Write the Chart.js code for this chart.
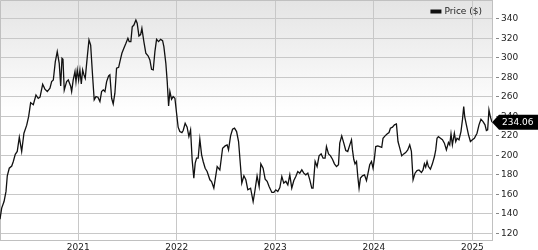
<!DOCTYPE html>
<html><head><meta charset="utf-8">
<script src="https://cdn.jsdelivr.net/npm/chart.js@4.4.1/dist/chart.umd.min.js"></script>
<style>html,body{margin:0;padding:0;background:#fff;overflow:hidden}#wrap{width:538px;height:250px;position:relative}</style>
</head><body><div id="wrap"><canvas id="c" width="538" height="250"></canvas></div>
<script>
const seriesLabel = 'Price ($)';
const xTicks = [2021, 2022, 2023, 2024, 2025];
const yTicks = [120, 140, 160, 180, 200, 220, 240, 260, 280, 300, 320, 340];
const xRange = [2020.206, 2025.199];
const yRange = [113.1, 359.5];
const lastValue = 234.06;

const dates = [
2020.206,2020.223,2020.247,2020.267,2020.280,2020.300,2020.325,2020.341,2020.361,2020.381,2020.402,2020.426,2020.449,2020.477,2020.497,2020.517,2020.544,2020.571,2020.594,2020.612,2020.639,2020.662,2020.686,2020.713,2020.730,2020.747,2020.767,2020.787,2020.807,2020.822,2020.835,2020.845,2020.858,2020.882,2020.899,2020.923,
2020.933,2020.949,2020.967,2020.977,2020.990,2021.004,2021.017,2021.031,2021.045,2021.058,2021.071,2021.092,2021.109,2021.126,2021.146,2021.162,2021.180,2021.200,2021.220,2021.237,2021.254,2021.271,2021.288,2021.308,2021.321,2021.339,2021.355,2021.372,2021.389,2021.410,2021.423,2021.443,2021.463,2021.484,2021.504,2021.517,2021.534,2021.548,2021.565,2021.585,2021.598,2021.616,2021.633,
2021.646,2021.666,2021.686,2021.710,2021.727,2021.744,2021.761,2021.778,2021.795,2021.815,2021.836,2021.856,2021.869,2021.889,2021.903,2021.917,2021.930,2021.947,2021.963,2021.981,2021.998,2022.014,2022.031,2022.052,2022.065,2022.085,2022.105,2022.123,2022.140,2022.156,2022.173,2022.187,2022.201,2022.217,2022.234,2022.252,2022.268,2022.288,2022.308,2022.336,
2022.353,2022.376,2022.410,2022.437,2022.465,2022.491,2022.511,2022.525,2022.546,2022.566,2022.586,2022.607,2022.627,2022.647,2022.660,2022.681,2022.701,2022.721,2022.749,2022.775,2022.792,2022.815,2022.836,2022.853,2022.876,2022.897,2022.917,2022.937,2022.965,2022.985,2023.005,2023.025,2023.046,
2023.066,2023.086,2023.107,2023.127,2023.147,2023.167,2023.188,2023.208,2023.228,2023.248,2023.269,2023.289,2023.309,2023.330,2023.350,2023.370,2023.383,2023.404,2023.424,2023.444,2023.465,2023.485,2023.505,2023.519,2023.540,2023.560,2023.580,2023.600,2023.621,2023.641,2023.654,2023.674,2023.695,2023.715,2023.735,2023.756,
2023.773,2023.783,2023.796,2023.809,2023.824,2023.837,2023.850,2023.864,2023.884,2023.905,2023.925,2023.941,2023.958,2023.976,2023.992,2024.006,2024.019,2024.040,2024.060,2024.080,2024.093,2024.114,2024.134,2024.154,2024.168,2024.189,2024.209,2024.229,2024.245,2024.263,2024.283,2024.303,2024.323,2024.344,2024.364,2024.381,2024.398,2024.418,2024.438,2024.458,2024.483,
2024.499,2024.513,2024.526,2024.540,2024.554,2024.574,2024.594,2024.615,2024.628,2024.641,2024.655,2024.676,2024.696,2024.716,2024.736,2024.757,2024.770,2024.783,2024.797,2024.817,2024.831,2024.844,2024.864,2024.884,2024.899,2024.912,2024.922,2024.939,2024.960,2024.980,2025.000,2025.020,2025.047,2025.067,2025.087,2025.108,2025.128,2025.142,2025.155,2025.168,2025.182,2025.199
];

const prices = [
134.5,145.8,152.6,163,179,186.8,189,193.7,201,204,218.6,204,222.7,231,240,254,252,262,258.6,259.7,273,268,265.5,269,275.7,277.4,296,306.5,294.5,271.3,299.7,298.6,267,275.7,277.4,271,
265.5,277.4,286,275.7,287.7,277.4,287.7,273.3,287.7,282.6,279,301.4,318.5,313.3,280.9,257,260.3,259.7,255.2,265.5,267.2,265.5,275.7,281.5,282.6,258.6,252.8,263.8,289.4,290.4,296.2,304.8,309.9,315,320.2,316.8,316.8,332,333.8,339,335.6,322.6,324,
330.4,316.8,304.8,302,298,288.4,287.7,306.5,319.1,316.8,319.1,317.8,311.6,294.5,275.7,250.8,265.5,257.6,260.3,258.6,243.2,228.9,224.4,223.4,225.5,233,228.9,219.3,226.2,195.4,176.6,192,197.1,197.1,216.6,200.5,193.7,186.8,183.4,174.9,
173,166.3,188.5,185,207.3,209.7,210.7,205.6,220,226.8,227.9,224.4,214.2,188.5,171.5,179,174.9,164.6,166.3,152.6,162.9,179,168,191.3,186.8,175.6,173.3,168,161.9,161.9,164.6,162.9,167,
178.3,171.5,173.3,169.7,180,166.3,174.2,178.3,183.4,181.7,185.1,181.7,180,181.7,174.9,166.3,166.3,193.7,188.5,199.5,201.5,197.1,197.1,209,201.5,199.5,196,191.3,188.5,190.3,212.5,220,212.5,205,204,210.8,
216,205.6,196,191.3,193.7,178.3,166.3,176.6,179,180,174.2,181.7,190.3,193.7,186.8,197.1,209,209.7,209,208.3,217.6,220,222,223.4,227.9,228.9,231.3,232.3,214.2,207.4,199.5,201.5,202.9,205.6,210.8,204,174.9,181.7,184.4,185,182.4,
185,191.3,187.9,193.7,188.5,185.8,191.3,198.8,205.6,217.6,219.3,217.6,216,212.5,205.6,213.2,210.8,222,210.8,222.7,214.2,217.6,216,224.4,236.4,250.1,239.8,231.3,221.3,214.2,216,217.6,222.7,231.3,237.1,234.7,231.3,225.5,226.2,246.7,239.8,234.06
];

const FONT = {family: "'DejaVu Sans', sans-serif", size: 9};
const TEXT = '#222';
const GRID = '#c8c8c8';

const bgPlugin = {
  id: 'bg',
  beforeDraw(chart) {
    const {ctx, chartArea: a} = chart;
    const g = ctx.createLinearGradient(0, a.top, 0, a.bottom);
    g.addColorStop(0, '#e4e4e4');
    g.addColorStop(0.47, '#ffffff');
    g.addColorStop(1, '#ffffff');
    ctx.save();
    ctx.fillStyle = g;
    ctx.fillRect(a.left, a.top, a.right - a.left, a.bottom - a.top);
    ctx.restore();
  },
  beforeDatasetsDraw(chart) {
    const {ctx, chartArea: a} = chart;
    ctx.save();
    ctx.strokeStyle = '#c0c0c0';
    ctx.lineWidth = 1;
    ctx.beginPath();
    ctx.moveTo(a.left + 0.5, a.bottom);
    ctx.lineTo(a.left + 0.5, a.top + 0.5);
    ctx.lineTo(a.right, a.top + 0.5);
    ctx.stroke();
    ctx.restore();
  },
  afterDraw(chart) {
    const {ctx, chartArea: a} = chart;
    const ds = chart.data.datasets[0];
    ctx.save();
    ctx.font = `9px ${FONT.family}`;
    const tw = ctx.measureText(ds.label).width;
    const tx = a.right - 10 - tw;
    ctx.fillStyle = TEXT;
    ctx.textBaseline = 'middle';
    ctx.fillText(ds.label, tx, 12);
    ctx.fillStyle = ds.borderColor;
    ctx.fillRect(tx - 14, 9.5, 11, 4);
    const y = chart.scales.y.getPixelForValue(lastValue);
    const x0 = a.right;
    ctx.fillStyle = '#000';
    ctx.beginPath();
    ctx.moveTo(x0, y);
    ctx.lineTo(x0 + 7, y - 7.5);
    ctx.lineTo(538, y - 7.5);
    ctx.lineTo(538, y + 7.5);
    ctx.lineTo(x0 + 7, y + 7.5);
    ctx.closePath();
    ctx.fill();
    ctx.fillStyle = '#fff';
    ctx.fillText(lastValue.toFixed(2), x0 + 10, y + 0.5);
    ctx.restore();
  }
};

new Chart(document.getElementById('c'), {
  type: 'line',
  data: {
    datasets: [{
      label: seriesLabel,
      data: dates.map((d, i) => ({x: d, y: prices[i]})),
      borderColor: '#111111',
      borderWidth: 1.3,
      pointRadius: 0,
      tension: 0,
      fill: false
    }]
  },
  options: {
    responsive: false,
    animation: false,
    devicePixelRatio: 1,
    layout: {padding: 0},
    plugins: {legend: {display: false}, tooltip: {enabled: false}},
    scales: {
      x: {
        type: 'linear',
        min: xRange[0], max: xRange[1],
        afterBuildTicks: s => { s.ticks = xTicks.map(v => ({value: v})); },
        afterFit: s => { s.height = 10; s.paddingLeft = 0; s.paddingRight = 0; },
        ticks: {font: FONT, color: TEXT, padding: 2, maxRotation: 0, autoSkip: false, callback: v => String(v)},
        grid: {color: GRID, drawTicks: false},
        border: {color: '#c0c0c0'}
      },
      y: {
        position: 'right',
        min: yRange[0], max: yRange[1],
        afterBuildTicks: s => { s.ticks = yTicks.map(v => ({value: v})); },
        afterFit: s => { s.width = 46; s.paddingTop = 0; s.paddingBottom = 0; },
        ticks: {font: FONT, color: TEXT, padding: 2, callback: v => String(v)},
        grid: {color: GRID, tickLength: 7, tickColor: '#888', tickBorderDash: [0, 3, 4, 60]},
        border: {color: '#c0c0c0'}
      }
    }
  },
  plugins: [bgPlugin]
});
</script>
</body></html>
